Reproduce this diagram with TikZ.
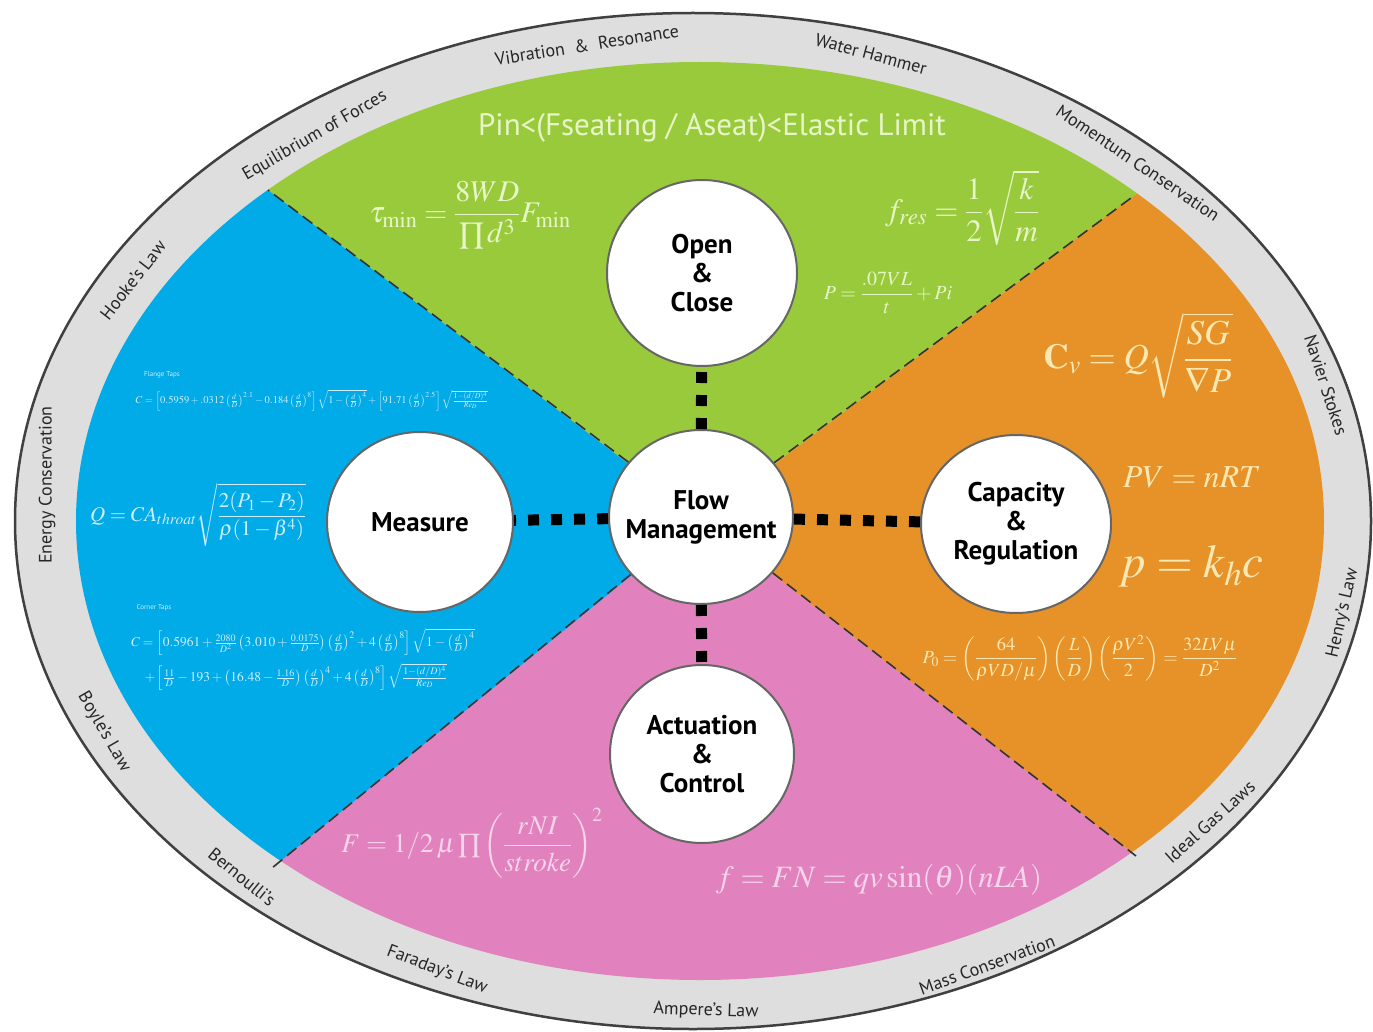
\documentclass[tikz,border=0pt]{standalone}
\usepackage{amsmath}
\usepackage{mathptmx}
\usepackage[no-math]{fontspec}
\setmainfont{PT Sans}
\usetikzlibrary{calc,shapes.geometric}
\definecolor{GreenClr}{RGB}{153,202,60}
\definecolor{BlueClr}{RGB}{0,171,232}
\definecolor{OrangeClr}{RGB}{230,146,40}
\definecolor{PinkClr}{RGB}{225,130,190}
\definecolor{RingClr}{RGB}{222,222,222}
\definecolor{GreenTxt}{RGB}{232,245,200}
\definecolor{BlueTxt}{RGB}{205,238,252}
\definecolor{OrangeTxt}{RGB}{252,232,178}
\definecolor{PinkTxt}{RGB}{246,212,236}

\tikzset{
  hub/.style={ellipse,draw=black!60,line width=2pt,fill=white,inner sep=-12pt,
    align=center,font=\bfseries\fontsize{27}{29}\selectfont},
  sqdots/.style={line width=11pt,dash pattern=on 11pt off 12pt},
  sectorline/.style={line width=1.6pt,black!80,dash pattern=on 12pt off 6pt},
  ringlbl/.style={font=\fontsize{18}{20}\selectfont,text=black!85,inner sep=0pt},
  eq/.style={text=#1,inner sep=0pt}
}

\begin{document}
\begin{tikzpicture}[x=1pt,y=-1pt]
\useasboundingbox (0,0) rectangle (1373,1032);

% ring of laws
\fill[RingClr] (693,521) ellipse [x radius=679pt,y radius=509pt];
\draw[black!75,line width=2.5pt] (693,521) ellipse [x radius=678pt,y radius=508pt];

% four sectors
\coordinate (c) at (701,519);
\coordinate (ul) at (268,190);
\coordinate (ur) at (1135,195);
\coordinate (ll) at (272,868);
\coordinate (lr) at (1136,856);
\begin{scope}
\clip (700,521) ellipse [x radius=624pt,y radius=459pt];
\fill[GreenClr] (c) -- ($(c)!3!(ul)$) -- ($(c)!3!(ur)$) -- cycle;
\fill[OrangeClr] (c) -- ($(c)!3!(ur)$) -- ($(c)!3!(lr)$) -- cycle;
\fill[PinkClr] (c) -- ($(c)!3!(lr)$) -- ($(c)!3!(ll)$) -- cycle;
\fill[BlueClr] (c) -- ($(c)!3!(ll)$) -- ($(c)!3!(ul)$) -- cycle;
\end{scope}

% labels on the ring
\node[ringlbl,rotate=9] (vibration) at (587,45) {Vibration \ \& \ Resonance};
\node[ringlbl,rotate=-15] (hammer) at (871,54) {Water Hammer};
\node[ringlbl,rotate=-34] (momentum) at (1138,163) {Momentum Conservation};
\node[ringlbl,rotate=-72] (navier) at (1326,385) {Navier Stokes};
\node[ringlbl,rotate=77] (henry) at (1343,613) {Henry's Law};
\node[ringlbl,rotate=42] (idealgas) at (1210,822) {Ideal Gas Laws};
\node[ringlbl,rotate=20] (mass) at (987,965) {Mass Conservation};
\node[ringlbl,rotate=-2] (ampere) at (706,1011) {Ampere's Law};
\node[ringlbl,rotate=-21] (faraday) at (437,970) {Faraday's Law};
\node[ringlbl,rotate=-39] (bernoulli) at (242,877) {Bernoulli's};
\node[ringlbl,rotate=-60] (boyle) at (104,732) {Boyle's Law};
\node[ringlbl,rotate=90] (energy) at (47,485) {Energy Conservation};
\node[ringlbl,rotate=52] (hooke) at (133,280) {Hooke's Law};
\node[ringlbl,rotate=30] (equilibrium) at (315,136) {Equilibrium of Forces};

% green sector
\node[eq=GreenTxt,font=\fontsize{31}{35}\selectfont] (pin) at (712,128) {Pin<(Fseating / Aseat)<Elastic Limit};
\node[eq=GreenTxt,font=\fontsize{30}{34}\selectfont] (tau) at (470,215) {$\tau_{\min}=\dfrac{8WD}{\prod d^{3}}F_{\min}$};
\node[eq=GreenTxt,font=\fontsize{31}{35}\selectfont] (fres) at (962,208) {$f_{res}=\dfrac{1}{2}\sqrt{\dfrac{k}{m}}$};
\node[eq=GreenTxt,font=\fontsize{20}{24}\selectfont] (pseat) at (888,293) {$P=\dfrac{.07VL}{t}+Pi$};

% blue sector
\node[eq=BlueTxt,font=\fontsize{7}{8}\selectfont] (flange) at (162,375) {Flange Taps};
\node[eq=BlueTxt,font=\fontsize{10.5}{12}\selectfont] (flangeeq) at (312,400) {$C=\left[0.5959+.0312\left(\frac{d}{D}\right)^{2.1}-0.184\left(\frac{d}{D}\right)^{8}\right]\sqrt{1-\left(\frac{d}{D}\right)^{4}}+\left[91.71\left(\frac{d}{D}\right)^{2.5}\right]\sqrt{\frac{1-(d/D)^{4}}{Re_{D}}}$};
\node[eq=BlueTxt,font=\fontsize{21}{25}\selectfont] (qflow) at (198,515) {$Q=CA_{throat}\sqrt{\dfrac{2(P_1-P_2)}{\rho(1-\beta^{4})}}$};
\node[eq=BlueTxt,font=\fontsize{7}{8}\selectfont] (corner) at (154,608) {Corner Taps};
\node[eq=BlueTxt,font=\fontsize{13.5}{15}\selectfont] (cornereq) at (303,642) {$C=\left[0.5961+\frac{2080}{D^{2}}\left(3.010+\frac{0.0175}{D}\right)\left(\frac{d}{D}\right)^{2}+4\left(\frac{d}{D}\right)^{8}\right]\sqrt{1-\left(\frac{d}{D}\right)^{4}}$};
\node[eq=BlueTxt,font=\fontsize{13.5}{15}\selectfont] (cornereqb) at (296,677) {$+\left[\frac{11}{D}-193+\left(16.48-\frac{1.16}{D}\right)\left(\frac{d}{D}\right)^{4}+4\left(\frac{d}{D}\right)^{8}\right]\sqrt{\frac{1-(d/D)^{4}}{Re_{D}}}$};

% orange sector
\node[eq=OrangeTxt,font=\fontsize{35}{39}\selectfont] (cv) at (1138,355) {$\mathbf{C}_{v}=Q\sqrt{\dfrac{SG}{\nabla P}}$};
\node[eq=OrangeTxt,font=\fontsize{32}{36}\selectfont] (gaslaw) at (1192,477) {$PV=nRT$};
\node[eq=OrangeTxt,font=\fontsize{47}{51}\selectfont] (henryeq) at (1191,566) {$p=k_{h}c$};
\node[eq=OrangeTxt,font=\fontsize{18.5}{22}\selectfont] (drop) at (1080,658) {$P_{0}=\left(\dfrac{64}{\rho VD/\mu}\right)\left(\dfrac{L}{D}\right)\left(\dfrac{\rho V^{2}}{2}\right)=\dfrac{32LV\mu}{D^{2}}$};

% pink sector
\node[eq=PinkTxt,font=\fontsize{27}{31}\selectfont] (force) at (472,843) {$F=1/2\,\mu\prod\left(\dfrac{rNI}{stroke}\right)^{2}$};
\node[eq=PinkTxt,font=\fontsize{31}{35}\selectfont] (lorentz) at (879,880) {$f=FN=qv\sin(\theta)(nLA)$};

% hubs
\node[hub,minimum width=184pt,minimum height=174pt] (flow) at (701,517) {Flow\\Management};
\node[hub,minimum width=190pt,minimum height=186pt] (open) at (702,273) {Open\\\&\\Close};
\node[hub,minimum width=186pt,minimum height=180pt] (measure) at (420,522) {Measure};
\node[hub,minimum width=190pt,minimum height=178pt] (capacity) at (1016,524) {Capacity\\\&\\Regulation};
\node[hub,minimum width=184pt,minimum height=178pt] (actuation) at (702,754) {Actuation\\\&\\Control};

% links
\draw[sqdots] (flow) -- (open);
\draw[sqdots] (flow) -- (measure);
\draw[sqdots] (flow) -- (capacity);
\draw[sqdots] (flow) -- (actuation);

% sector borders
\draw[sectorline] (flow) -- (ul);
\draw[sectorline] (flow) -- (ur);
\draw[sectorline] (flow) -- (ll);
\draw[sectorline] (flow) -- (lr);

\end{tikzpicture}
\end{document}
